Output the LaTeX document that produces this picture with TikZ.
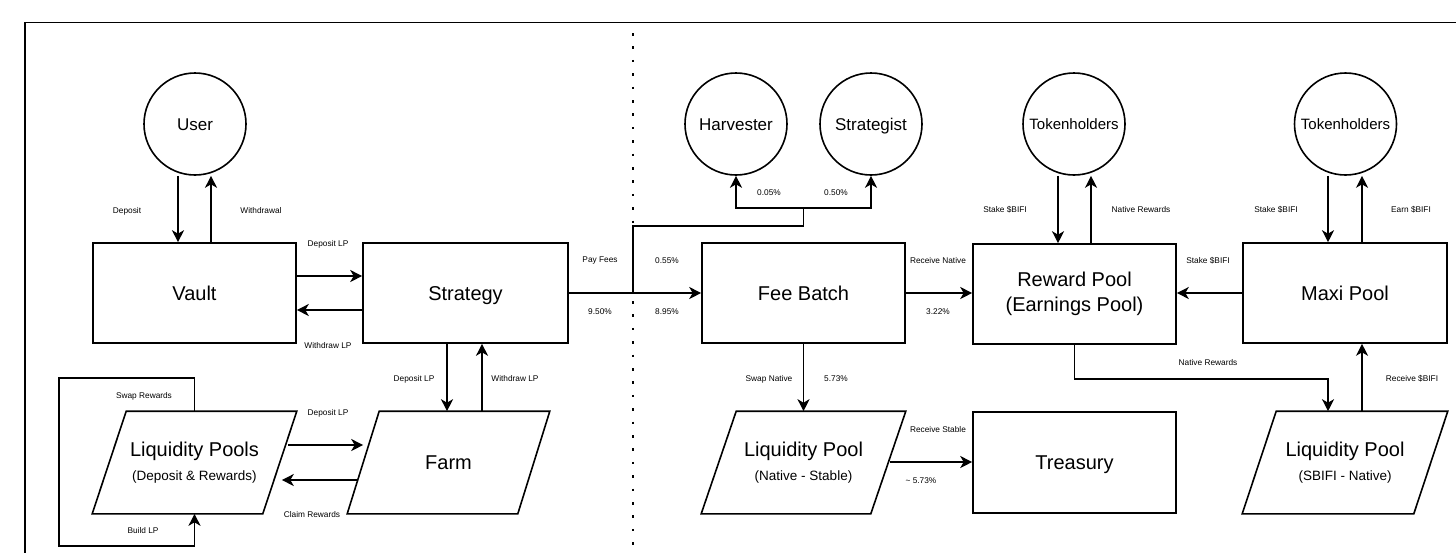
\documentclass[tikz,border=0pt]{standalone}
\usepackage{fontspec}
\setmainfont{Liberation Sans}
\usetikzlibrary{arrows.meta,calc}

% outline of a slanted (parallelogram) box around a bounding node
\newcommand\paraoutline[2]{%
  \draw (#1.south west) -- ($(#1.north west)+(#2,0)$) -- (#1.north east)
        -- ($(#1.south east)+(-#2,0)$) -- cycle;}
% size of the second, smaller line inside pool boxes
\newcommand\subtxt{\fontsize{13.5}{16}\selectfont}

\begin{document}
\begin{tikzpicture}[x=1pt,y=-1pt,line width=1.6pt,
  box/.style={draw,rectangle,minimum width=203pt,minimum height=100pt,inner sep=0pt,
              align=center,font=\fontsize{20}{25}\selectfont},
  oneline/.style={text height=14.3pt,text depth=0pt},
  actor/.style={draw,circle,minimum size=102pt,inner sep=0pt,font=\fontsize{17}{20}\selectfont,
              text height=12.2pt,text depth=0pt},
  paraframe/.style={rectangle,minimum width=203pt,minimum height=101pt,inner sep=0pt,
              align=center,font=\fontsize{20}{25}\selectfont},
  lbl/.style={font=\fontsize{8.3}{10}\selectfont,inner sep=0pt},
  arr/.style={-{Stealth[length=12pt,width=12pt,inset=3.5pt]}},
  divider/.style={line width=2.6pt,dash pattern=on 2.6pt off 10.8pt}]

\useasboundingbox (0,0) rectangle (1456,552);
\fill[white] (0,0) rectangle (1456,552);

% outer frame and the dotted divider
\begin{scope}
  \clip (0,0) rectangle (1456,552);
  \draw[line width=1.5pt] (25,22.7) rectangle (1480,580);
  \draw[divider] (633,33) -- (633,560);
\end{scope}

% ---------- left half: vault side ----------
\node[actor] (user) at (195,124) {User};
\node[box,oneline] (vault) at (194.5,293) {Vault};
\node[box,oneline,minimum width=205pt] (strategy) at (465.5,293) {Strategy};
\node[paraframe] (lp) at (194.5,462.5) {Liquidity Pools\\[-1pt]{\subtxt (Deposit \& Rewards)}};
\paraoutline{lp}{34}
\node[paraframe,oneline,minimum width=201pt] (farm) at (448.5,462.5) {Farm};
\paraoutline{farm}{32}

\draw[arr] ([xshift=-17pt]user.south) -- ([xshift=-17pt]user.south |- vault.north);
\draw[arr] ([xshift=16pt]user.south |- vault.north) -- ([xshift=16pt]user.south);
\node[lbl] (tDep) at (127,211) {Deposit};
\node[lbl] (tWd) at (261,211) {Withdrawal};

\draw[arr] ([yshift=17pt]vault.east) -- ([yshift=17pt]vault.east -| strategy.west);
\draw[arr] ([yshift=-17pt]strategy.west) -- ([yshift=-17pt]strategy.west -| vault.east);
\node[lbl] (tDepLP1) at (328,244) {Deposit LP};
\node[lbl] (tWdLP1) at (328,346) {Withdraw LP};

\draw[arr] ([xshift=-18.5pt]strategy.south) -- ([xshift=-18.5pt]strategy.south |- farm.north);
\draw[arr] ([xshift=16.5pt]strategy.south |- farm.north) -- ([xshift=16.5pt]strategy.south);
\node[lbl] (tDepLP2) at (414,379) {Deposit LP};
\node[lbl] (tWdLP2) at (515,379) {Withdraw LP};

\draw[arr] ($(lp.east)+(-9,-17.5)$) -- ($(farm.west)+(16,-17.5)$);
\draw[arr] ($(farm.west)+(10,17.5)$) -- ($(lp.east)+(-15,17.5)$);
\node[lbl] (tDepLP3) at (328,413) {Deposit LP};
\node[lbl] (tClaim) at (312,515) {Claim Rewards};

\draw[arr] (lp.north) -- ++(0,-33) -| ++(-135.5,168) -| (lp.south);
\node[lbl] (tSwapR) at (144,396) {Swap Rewards};
\node[lbl] (tBuild) at (143,531) {Build LP};

% ---------- right half: fee distribution ----------
\node[actor] (harv) at (736,124) {Harvester};
\node[actor] (strat) at (871,124) {Strategist};
\node[actor,font=\fontsize{15}{18}\selectfont,text height=10.7pt] (tok1) at (1074,124) {Tokenholders};
\node[actor,font=\fontsize{15}{18}\selectfont,text height=10.7pt] (tok2) at (1345.5,124) {Tokenholders};

\node[box,oneline] (fee) at (803.5,293) {Fee Batch};
\node[box] (reward) at (1074.5,294) {Reward Pool\\(Earnings Pool)};
\node[box,oneline,minimum width=204pt] (maxi) at (1345,293) {Maxi Pool};
\node[box,oneline,minimum height=101pt] (treasury) at (1074.5,462.5) {Treasury};
\node[paraframe] (lpns) at (803.5,462.5) {Liquidity Pool\\[-1pt]{\subtxt (Native - Stable)}};
\paraoutline{lpns}{35}
\node[paraframe,minimum width=204pt] (lpsb) at (1345,462.5) {Liquidity Pool\\[-1pt]{\subtxt (SBIFI - Native)}};
\paraoutline{lpsb}{34}

\coordinate (split) at (633,293);
\coordinate (fork) at (803.5,208);
\draw[arr] (strategy.east) -- (fee.west);
\draw (split) |- ([yshift=-18pt]fork) -- (fork);
\draw[arr] (fork) -| (harv.south);
\draw[arr] (fork) -| (strat.south);
\node[lbl] (tPay) at (600,261) {Pay Fees};
\node[lbl] (t950) at (600,312) {9.50\%};
\node[lbl] (t055) at (667,261) {0.55\%};
\node[lbl] (t895) at (667,312) {8.95\%};
\node[lbl] (t005) at (769,193) {0.05\%};
\node[lbl] (t050) at (836,193) {0.50\%};

\draw[arr] (fee.east) -- (fee.east -| reward.west);
\node[lbl] (tRecN) at (938,261) {Receive Native};
\node[lbl] (t322) at (938,312) {3.22\%};

\draw[arr] (fee.south) -- (lpns.north);
\node[lbl] (tSwapN) at (769,379) {Swap Native};
\node[lbl] (t573) at (836,379) {5.73\%};

\draw[arr] ($(lpns.east)+(-16,-0.5)$) -- ($(treasury.west)+(0,-0.5)$);
\node[lbl] (tRecS) at (938,430) {Receive Stable};
\node[lbl] (t573b) at (921,481) {\textasciitilde{} 5.73\%};

\draw[arr] ([xshift=-16pt]tok1.south) -- ([xshift=-16pt]tok1.south |- reward.north);
\draw[arr] ([xshift=17pt]tok1.south |- reward.north) -- ([xshift=17pt]tok1.south);
\node[lbl] (tStk1) at (1005,210) {Stake \$BIFI};
\node[lbl] (tNatR1) at (1141,210) {Native Rewards};

\draw[arr] ([xshift=-17.5pt]tok2.south) -- ([xshift=-17.5pt]tok2.south |- maxi.north);
\draw[arr] ([xshift=16.5pt]tok2.south |- maxi.north) -- ([xshift=16.5pt]tok2.south);
\node[lbl] (tStk2) at (1276,210) {Stake \$BIFI};
\node[lbl] (tEarn) at (1411,210) {Earn \$BIFI};

\draw[arr] (maxi.west) -- (maxi.west -| reward.east);
\node[lbl] (tStk3) at (1208,261) {Stake \$BIFI};

\draw[arr] (reward.south) -- ++(0,34) -| ([xshift=-17pt]lpsb.north);
\node[lbl] (tNatR2) at (1208,363) {Native Rewards};

\draw[arr] ([xshift=17pt]lpsb.north) -- ([xshift=17pt]lpsb.north |- maxi.south);
\node[lbl] (tRecB) at (1412,379) {Receive \$BIFI};

\end{tikzpicture}
\end{document}
